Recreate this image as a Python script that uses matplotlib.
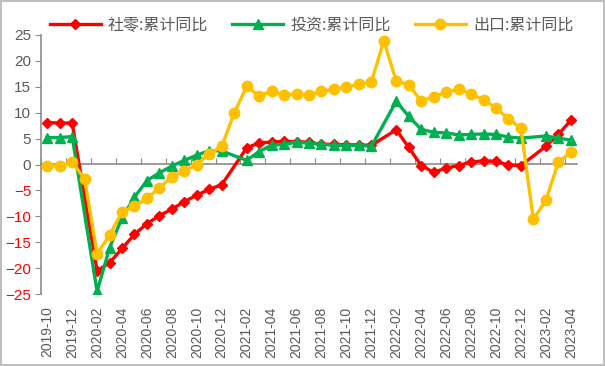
import numpy as np
import pandas as pd
import matplotlib
matplotlib.use("Agg")
import matplotlib.pyplot as plt

plt.rcParams['font.family'] = ['Liberation Sans', 'Noto Sans CJK SC', 'DejaVu Sans']

months = list(pd.period_range('2019-10', '2023-04', freq='M').strftime('%Y-%m'))
nan = np.nan

# 社零:累计同比
retail = [8.1, 8.0, 8.0,
          nan, -20.5, -19.0, -16.2, -13.5, -11.4, -9.9, -8.6, -7.2, -5.9, -4.8, -3.9,
          nan, 3.2, 4.2, 4.3, 4.5, 4.4, 4.3, 3.9, 3.9, 3.8, 3.8, 3.7,
          nan, 6.7, 3.3, -0.2, -1.5, -0.7, -0.2, 0.5, 0.7, 0.6, -0.1, -0.2,
          nan, 3.5, 5.8, 8.5]
# 投资:累计同比
invest = [5.2, 5.2, 5.4,
          nan, -24.5, -16.1, -10.3, -6.3, -3.1, -1.6, -0.3, 0.8, 1.8, 2.7, 2.6,
          nan, 0.8, 2.5, 3.7, 3.9, 4.3, 4.1, 3.9, 3.7, 3.7, 3.7, 3.5,
          nan, 12.2, 9.3, 6.8, 6.2, 6.1, 5.7, 5.8, 5.9, 5.8, 5.3, 5.1,
          nan, 5.5, 5.1, 4.7]
# 出口:累计同比
export = [-0.2, -0.3, 0.5,
          -2.8, -17.3, -13.6, -9.2, -8.0, -6.5, -4.5, -2.4, -1.3, 0.0, 2.1, 3.5,
          9.9, 15.1, 13.2, 14.2, 13.4, 13.6, 13.5, 14.1, 14.5, 14.9, 15.5, 15.9,
          23.9, 16.1, 15.4, 12.2, 13.1, 13.9, 14.6, 13.6, 12.5, 10.9, 8.8, 7.0,
          -10.6, -6.9, 0.4, 2.4]

series = [
    ('社零:累计同比', retail, '#FF0000', 'D', 5.5),
    ('投资:累计同比', invest, '#00B050', '^', 6.5),
    ('出口:累计同比', export, '#FFC000', 'o', 7.5),
]

gray = '#595959'
axis_gray = '#8C8C8C'

fig = plt.figure(figsize=(6.05, 3.66), dpi=100, edgecolor='#BFBFBF', linewidth=1.5)
ax = fig.add_axes([41 / 605, 1 - 294 / 366, 536 / 605, 259 / 366])

x = np.arange(len(months))
for i, (name, vals, color, marker, ms) in enumerate(series):
    v = np.array(vals, dtype=float)
    m = ~np.isnan(v)
    ax.plot(x[m], v[m], color=color, lw=2.4, marker=marker, markersize=ms,
            label=name, zorder=3 + i)

ax.set_xlim(-0.5, len(months) - 0.5)
ax.set_ylim(-25, 25)
ax.set_yticks(np.arange(-25, 26, 5))
ax.tick_params(axis='y', direction='out', length=4, color=axis_gray,
               labelsize=11, labelcolor=gray, pad=3)
for lab in ax.get_yticklabels():
    if lab.get_text().replace('−', '-').startswith('-'):
        lab.set_color('#FF0000')

ax.set_xticks(x[::2])
ax.set_xticklabels(months[::2], rotation=90, fontsize=10, color=gray)
ax.tick_params(axis='x', length=0, pad=9)

for s in ['top', 'right', 'bottom']:
    ax.spines[s].set_visible(False)
ax.spines['left'].set_color(axis_gray)
ax.spines['left'].set_linewidth(1.2)

# category axis crossing at zero
sec = ax.secondary_xaxis(0.5)
sec.set_xticks(np.arange(-0.5, len(months), 2))
sec.tick_params(axis='x', direction='out', length=4, color=axis_gray,
                labelbottom=False, labeltop=False)
for sp in sec.spines.values():
    sp.set_color(axis_gray)
    sp.set_linewidth(1.2)

fig.legend(loc='center', bbox_to_anchor=(0.515, 0.932), ncol=3, frameon=False,
           prop={'family': ['Noto Sans CJK SC'], 'size': 11.5},
           labelcolor=gray, handlelength=3.2, handletextpad=0.45,
           columnspacing=1.5)

fig.savefig('out.png', dpi=100)
